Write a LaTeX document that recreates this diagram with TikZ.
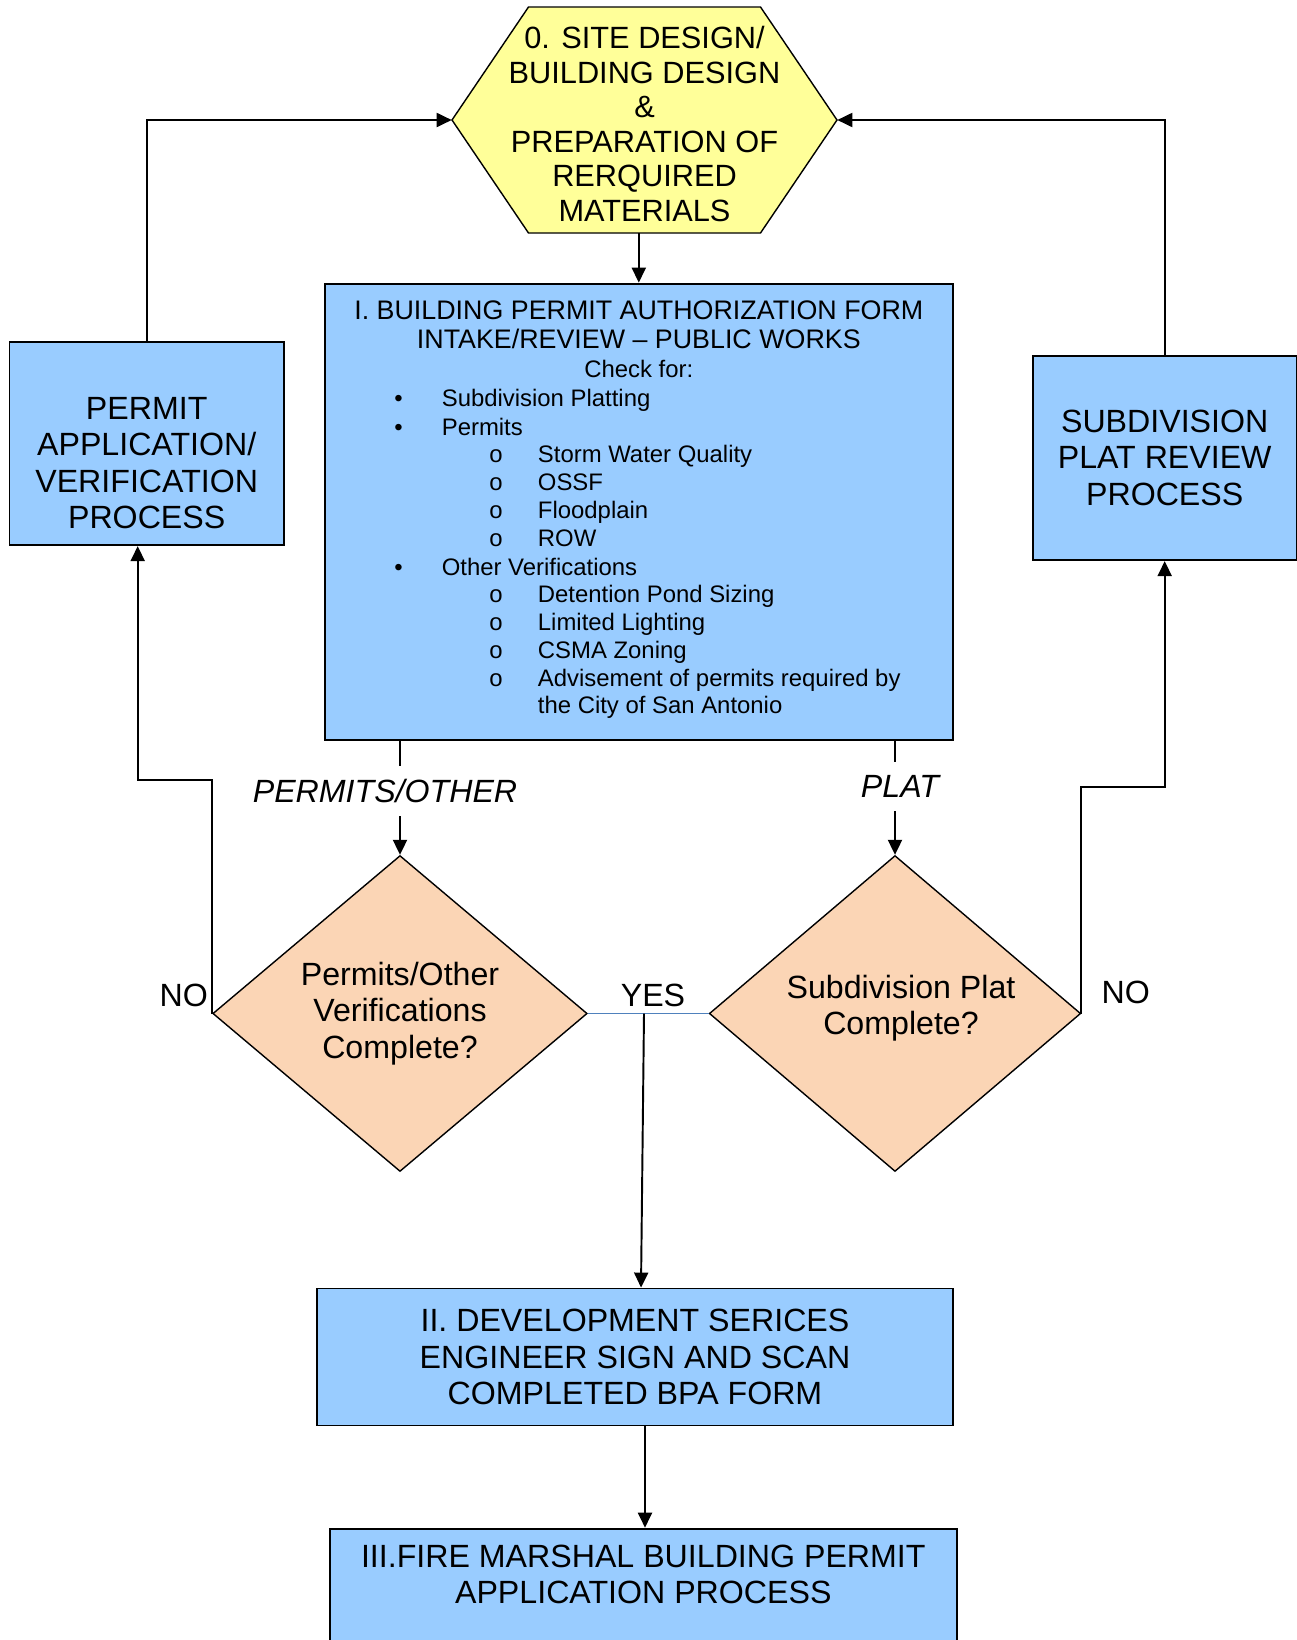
\documentclass[tikz,border=0pt]{standalone}
\usepackage{fontspec}
\setmainfont{Liberation Sans}
\usetikzlibrary{shapes.geometric,arrows.meta}

\definecolor{boxblue}{HTML}{99CCFF}
\definecolor{hexyellow}{HTML}{FFFF99}
\definecolor{diapeach}{HTML}{FBD5B5}
\definecolor{yesblue}{HTML}{4F81BD}

\tikzset{
  bigtext/.style={font=\fontsize{18.3}{20.7}\selectfont, align=center},
  procbox/.style={draw=black, line width=1.1pt, fill=boxblue, inner sep=0pt},
  decision/.style={diamond, draw=black, line width=0.8pt, fill=diapeach, inner sep=0pt, bigtext},
  flow/.style={black, line width=1.1pt, -{Triangle[length=0.3cm,width=0.28cm]}},
  branch/.style={font=\fontsize{18.3}{20.7}\selectfont\itshape, fill=white, inner xsep=2pt, inner ysep=7.5pt},
  listtext/.style={font=\fontsize{13.6}{15.7}\selectfont, inner sep=0pt}
}

\begin{document}
\begin{tikzpicture}[x=0.02cm, y=-0.02cm]
\useasboundingbox (0,0) rectangle (1297,1640);

% step 0
\draw [black, line width=0.8pt, fill=hexyellow] (528.5,7) -- (760.5,7) -- (837,120) -- (760.5,233) -- (528.5,233) -- (452,120) -- cycle;
\node [minimum width=7.7cm, minimum height=4.52cm, inner sep=0pt] (site) at (644.5,120) {};
\node [bigtext, font=\fontsize{17.5}{19.7}\selectfont, inner sep=0pt] (sitetext) at (644.5,124) {0. SITE DESIGN/\\BUILDING DESIGN\\\&\\PREPARATION OF\\RERQUIRED\\MATERIALS};

\node [procbox, bigtext, minimum width=5.49cm, minimum height=4.07cm] (permit) at (146.7,443.4) {\strut\\PERMIT\\APPLICATION/\\VERIFICATION\\PROCESS};
\node [procbox, bigtext, minimum width=5.28cm, minimum height=4.09cm] (subdiv) at (1164.7,457.9) {SUBDIVISION\\PLAT REVIEW\\PROCESS};

% step I
\node [procbox, minimum width=12.57cm, minimum height=9.13cm] (intake) at (638.8,511.8) {};
\node [font=\fontsize{15.27}{16.6}\selectfont, align=center, anchor=north, inner sep=0pt] (intaketitle) at (638.8,300.2) {I. BUILDING PERMIT AUTHORIZATION FORM\\INTAKE/REVIEW – PUBLIC WORKS};
\node [listtext, anchor=base] (checkfor) at (638.8,377.3) {Check for:};
\foreach \yy/\txt [count=\i] in {406.7/Subdivision Platting, 435/Permits, 575/Other Verifications}{
  \node [listtext, anchor=base] (dot\i) at (398.5,\yy) {\textbullet};
  \node [listtext, anchor=base west] (item\i) at (441.5,\yy) {\txt};
}
\foreach \yy/\txt [count=\i] in {462.7/Storm Water Quality, 490/OSSF, 518.3/Floodplain, 546/ROW, 602.7/Detention Pond Sizing, 630/Limited Lighting, 658.3/CSMA Zoning, 686/Advisement of permits required by}{
  \node [listtext, anchor=base] (ring\i) at (496,\yy) {o};
  \node [listtext, anchor=base west] (sub\i) at (537.6,\yy) {\txt};
}
\node [listtext, anchor=base west] (subcont) at (537.6,713.3) {the City of San Antonio};

% checks
\node [decision, minimum width=7.49cm, minimum height=6.32cm] (verif) at (400,1013.5) {Permits/Other\\Verifications\\Complete?};
\node [decision, minimum width=7.43cm, minimum height=6.32cm] (platok) at (895,1013.5) {};
\node [bigtext, inner sep=0pt] (platoktext) at (901,1008) {Subdivision Plat\\Complete?};

% steps II and III
\node [procbox, bigtext, minimum width=12.71cm, minimum height=2.74cm] (devsvc) at (635,1357) {II. DEVELOPMENT SERICES\\ENGINEER SIGN AND SCAN\\COMPLETED BPA FORM};
\node [procbox, minimum width=12.55cm, minimum height=2.8cm, anchor=north] (fire) at (643.3,1527.7) {};
\node [bigtext, anchor=north, inner sep=0pt] (firetext) at (643.3,1544.7) {III.FIRE MARSHAL BUILDING PERMIT\\APPLICATION PROCESS};

\draw [flow] (intake.north |- site.south) -- (intake.north);
\draw [flow] (intake.south -| verif.north) -- node [branch, pos=0.44, xshift=-0.3cm] (permitslbl) {PERMITS/OTHER} (verif.north);
\draw [flow] (intake.south -| platok.north) -- node [branch, pos=0.4, xshift=0.1cm] (platlbl) {PLAT} (platok.north);
\draw [flow] (verif.west) -- (verif.west |- 0,780) -| ([xshift=-0.18cm]permit.south);
\draw [flow] (platok.east) -- (platok.east |- 0,786.7) -| (subdiv.south);
\draw [flow] (permit.north) |- (site.west);
\draw [flow] (subdiv.north) |- (site.east);
\draw [yesblue, line width=0.8pt] (verif.east) -- (platok.west);
\coordinate (yesdrop) at (644,1013.5);
\draw [flow] (yesdrop) -- ([xshift=0.12cm]devsvc.north);
\draw [flow] ([xshift=0.2cm]devsvc.south) -- ([xshift=0.2cm]devsvc.south |- fire.north);

\node [bigtext, anchor=base] (noleft) at (183.7,1006) {NO};
\node [bigtext, anchor=base] (yes) at (653,1006) {YES};
\node [bigtext, anchor=base west] (noright) at (1095.5,1003) {NO};

\end{tikzpicture}
\end{document}
